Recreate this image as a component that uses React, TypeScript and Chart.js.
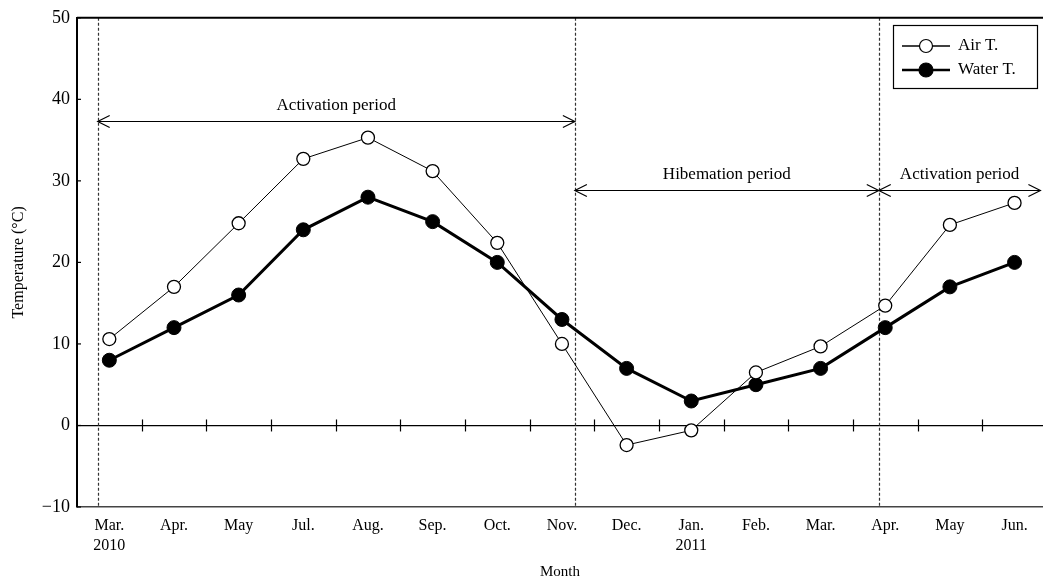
import React, { useEffect, useRef } from "react";
import { Chart, registerables } from "chart.js";

Chart.register(...registerables);

const categories: (string | string[])[] = [
  ["Mar.", "2010"], "Apr.", "May", "Jul.", "Aug.", "Sep.", "Oct.", "Nov.",
  "Dec.", ["Jan.", "2011"], "Feb.", "Mar.", "Apr.", "May", "Jun.",
];
const airT = [10.6, 17.0, 24.8, 32.7, 35.3, 31.2, 22.4, 10.0, -2.4, -0.6, 6.5, 9.7, 14.7, 24.6, 27.3];
const waterT = [8, 12, 16, 24, 28, 25, 20, 13, 7, 3, 5, 7, 12, 17, 20];
const yTicks = [-10, 0, 10, 20, 30, 40, 50];
// period boundaries (in category-index units) and arrow levels (°C)
const periodLines = [-0.18, 7.2, 11.9];
const periods = [
  { from: -0.18, to: 7.2, y: 37.3, label: "Activation period" },
  { from: 7.2, to: 11.9, y: 28.9, label: "Hibemation period" },
  { from: 11.9, to: 14.4, y: 28.9, label: "Activation period" },
];

const FONT = "'Liberation Serif', 'Times New Roman', serif";

const decorPlugin = {
  id: "decor",
  beforeDatasetsDraw(chart: any) {
    const { ctx, chartArea, scales } = chart;
    const x = scales.x, y = scales.y;
    ctx.save();
    // dashed period lines
    ctx.strokeStyle = "#333";
    ctx.lineWidth = 1.2;
    ctx.setLineDash([3, 2]);
    periodLines.forEach((v) => {
      const px = Math.round(x.getPixelForValue(v)) + 0.5;
      ctx.beginPath();
      ctx.moveTo(px, chartArea.top);
      ctx.lineTo(px, chartArea.bottom);
      ctx.stroke();
    });
    ctx.setLineDash([]);
    // ticks on zero line between categories
    const y0 = y.getPixelForValue(0);
    ctx.strokeStyle = "#000";
    ctx.lineWidth = 1.2;
    for (let i = 0; i < categories.length - 1; i++) {
      const px = Math.round(x.getPixelForValue(i + 0.5)) + 0.5;
      ctx.beginPath();
      ctx.moveTo(px, y0 - 6);
      ctx.lineTo(px, y0 + 6);
      ctx.stroke();
    }
    // inward ticks on y axis
    yTicks.forEach((v) => {
      const py = y.getPixelForValue(v);
      ctx.beginPath();
      ctx.moveTo(chartArea.left, py);
      ctx.lineTo(chartArea.left + 4, py);
      ctx.stroke();
    });
    // top border
    ctx.lineWidth = 2;
    ctx.beginPath();
    ctx.moveTo(chartArea.left, chartArea.top);
    ctx.lineTo(chartArea.right, chartArea.top);
    ctx.stroke();
    // period arrows
    ctx.lineWidth = 1.2;
    ctx.font = "17px " + FONT;
    ctx.fillStyle = "#000";
    ctx.textAlign = "center";
    ctx.textBaseline = "middle";
    periods.forEach((p) => {
      const x1 = x.getPixelForValue(p.from);
      const x2 = Math.min(x.getPixelForValue(p.to), chartArea.right - 2);
      const py = Math.round(y.getPixelForValue(p.y)) + 0.5;
      ctx.beginPath();
      ctx.moveTo(x1, py);
      ctx.lineTo(x2, py);
      ctx.moveTo(x1 + 12, py - 6);
      ctx.lineTo(x1, py);
      ctx.lineTo(x1 + 12, py + 6);
      ctx.moveTo(x2 - 12, py - 6);
      ctx.lineTo(x2, py);
      ctx.lineTo(x2 - 12, py + 6);
      ctx.stroke();
      ctx.fillText(p.label, (x1 + x2) / 2, py - 16);
    });
    ctx.restore();
  },
  afterDraw(chart: any) {
    const { ctx } = chart;
    ctx.save();
    const bx = 893, by = 25, bw = 144, bh = 63;
    ctx.fillStyle = "#fff";
    ctx.fillRect(bx, by, bw, bh);
    ctx.strokeStyle = "#000";
    ctx.lineWidth = 1.2;
    ctx.strokeRect(bx + 0.5, by + 0.5, bw, bh);
    const legendOrder = [1, 0];
    legendOrder.forEach((di, i) => {
      const ds: any = chart.data.datasets[di];
      const ly = by + 21 + i * 24;
      ctx.strokeStyle = "#000";
      ctx.lineWidth = ds.borderWidth === 1 ? 1.3 : 2.4;
      ctx.beginPath();
      ctx.moveTo(902, ly);
      ctx.lineTo(950, ly);
      ctx.stroke();
      ctx.beginPath();
      ctx.arc(926, ly, ds.pointRadius, 0, Math.PI * 2);
      ctx.fillStyle = ds.pointBackgroundColor;
      ctx.fill();
      ctx.lineWidth = 1.2;
      ctx.stroke();
      ctx.fillStyle = "#000";
      ctx.font = "17px " + FONT;
      ctx.textAlign = "left";
      ctx.textBaseline = "middle";
      ctx.fillText(ds.label, 958, ly);
    });
    ctx.restore();
  },
};

export default function App() {
  const ref = useRef<HTMLCanvasElement>(null);
  useEffect(() => {
    document.body.style.margin = "0";
    const canvas = ref.current!;
    const chart = new Chart(canvas, {
      type: "line",
      data: {
        datasets: [
          {
            label: "Water T.",
            data: waterT.map((v, i) => ({ x: i, y: v })),
            borderColor: "#000",
            borderWidth: 3,
            pointRadius: 7,
            pointBackgroundColor: "#000",
            pointBorderColor: "#000",
            pointBorderWidth: 1,
            order: 2,
          },
          {
            label: "Air T.",
            data: airT.map((v, i) => ({ x: i, y: v })),
            borderColor: "#000",
            borderWidth: 1,
            pointRadius: 6.5,
            pointBackgroundColor: "#fff",
            pointBorderColor: "#000",
            pointBorderWidth: 1.3,
            order: 1,
          },
        ],
      },
      options: {
        animation: false,
        responsive: false,
        layout: { autoPadding: false, padding: { top: 12, right: 0, left: 0, bottom: 0 } },
        plugins: { legend: { display: false }, tooltip: { enabled: false } },
        scales: {
          x: {
            type: "linear",
            min: -0.5,
            max: 14.44,
            afterBuildTicks: (s: any) => {
              s.ticks = categories.map((_, i) => ({ value: i }));
            },
            afterFit: (s: any) => {
              s.height = 75;
              s.paddingRight = 0;
              s.paddingLeft = 0;
            },
            grid: { display: false, drawTicks: false },
            border: { display: true, color: "#444", width: 1.5 },
            ticks: {
              autoSkip: false,
              maxRotation: 0,
              padding: 9,
              color: "#000",
              font: { family: FONT, size: 16, lineHeight: 1.25 },
              callback: (v: any) => categories[Math.round(v)] as any,
            },
            title: {
              display: true,
              text: "Month",
              color: "#000",
              font: { family: FONT, size: 15 },
              padding: { top: 0, bottom: 1 },
            },
          },
          y: {
            min: -10,
            max: 50,
            afterBuildTicks: (s: any) => {
              s.ticks = yTicks.map((v) => ({ value: v }));
            },
            afterFit: (s: any) => {
              s.width = 77;
            },
            grid: {
              drawTicks: false,
              color: (c: any) => (c.tick && c.tick.value === 0 ? "#000" : "rgba(0,0,0,0)"),
              lineWidth: 1.3,
            },
            border: { display: true, color: "#000", width: 2 },
            ticks: {
              padding: 7,
              color: "#000",
              font: { family: FONT, size: 18 },
              callback: (v: any) => (v < 0 ? "\u2212" + Math.abs(v) : String(v)),
            },
            title: {
              display: true,
              text: "Temperature (\u00B0C)",
              color: "#000",
              font: { family: FONT, size: 16 },
              padding: { top: 9, bottom: 0 },
            },
          },
        },
      },
      plugins: [decorPlugin],
    } as any);
    return () => chart.destroy();
  }, []);
  return (
    <div style={{ width: 1043, height: 582 }}>
      <canvas ref={ref} width={1043} height={582} style={{ display: "block" }} />
    </div>
  );
}
